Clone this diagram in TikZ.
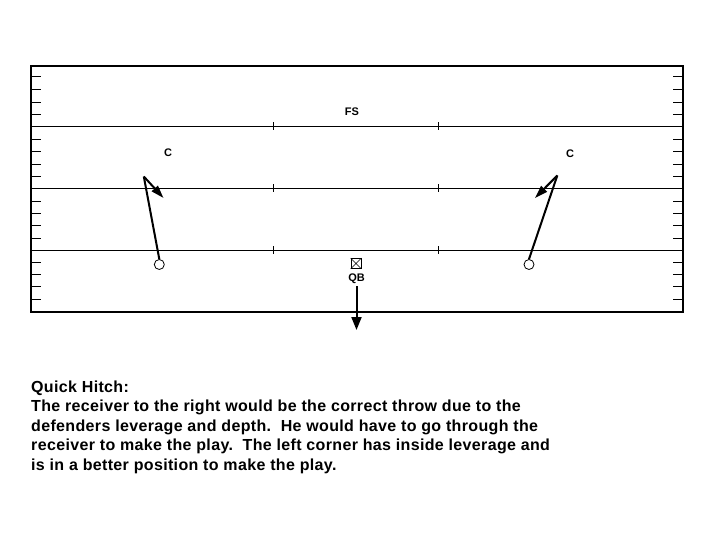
\documentclass[tikz,border=0pt]{standalone}
\usepackage{fontspec}
\setmainfont{Liberation Sans}
\newfontfamily\bodyfont[LetterSpace=2.2]{Liberation Sans}
\usetikzlibrary{arrows.meta}
\begin{document}
\begin{tikzpicture}[x=1pt,y=-1pt,
  yardline/.style={line width=0.9pt},
  border/.style={line width=1.8pt},
  tick/.style={line width=0.8pt},
  player/.style={circle,draw,line width=0.8pt,fill=white,minimum size=10pt,inner sep=0pt},
  route/.style={line width=2pt},
  rhead/.style={-{Triangle[length=13pt,width=8pt]}},
  lbl/.style={font=\fontsize{11}{11}\selectfont\bfseries,inner sep=0pt},
  body/.style={font=\bodyfont\fontsize{16}{19.5}\selectfont\bfseries,align=left,anchor=north west,inner sep=0pt}]
\useasboundingbox (0,0) rectangle (720,540);
\fill[white] (0,0) rectangle (720,540);
% yard lines
\foreach \y in {126.5,188.3,250} \draw[yardline] (31,\y) -- (683,\y);
% inner hash marks
\foreach \y in {126.5,188.3,250} \foreach \x in {273,438} \draw[tick] (\x,\y-4) -- (\x,\y+4);
% side ticks
\foreach \y in {76.7,89.7,102.3,114.3,139.3,151.5,164.3,176.7,201.7,213.3,225.7,238.3,262.3,274.3,286.7,299}{
  \draw[tick] (31,\y) -- (41,\y);
  \draw[tick] (673,\y) -- (683,\y);
}
\draw[border] (31,66) rectangle (683,311.7);
% labels
\node[lbl] (fs) at (352,112) {FS};
\node[lbl] (cl) at (168,152.5) {C};
\node[lbl] (cr) at (570,154) {C};
% players
\node[player] (wl) at (159.3,264.5) {};
\node[player] (wr) at (529,264.5) {};
\coordinate (tl) at (143.8,176.5);
\coordinate (hl) at (163.5,198);
\coordinate (tr) at (557.3,175.5);
\coordinate (hr) at (535,198);
\draw[route,line join=miter] (wl.north) -- (tl);
\draw[route,rhead] (tl) -- (hl);
\draw[route] (wr.north) -- (tr);
\draw[route,rhead] (tr) -- (hr);
% QB
\node[draw,line width=0.7pt,minimum size=10pt,inner sep=0pt] (qbbox) at (356,263.5) {};
\draw[line width=0.6pt] (qbbox.north west) -- (qbbox.south east) (qbbox.north east) -- (qbbox.south west);
\node[lbl] (qb) at (356.5,279) {QB};
\coordinate (qbend) at (356.5,330);
\draw[line width=2pt,-{Triangle[length=13pt,width=10pt]}] (qb.south) ++(0,2) -- (qbend);
% text
\node[body] (txt) at (31,380.5) {Quick Hitch:\\
The receiver to the right would be the correct throw due to the\\
defenders leverage and depth.\ \ He would have to go through the\\
receiver to make the play.\ \ The left corner has inside leverage and\\
is in a better position to make the play.};
\end{tikzpicture}
\end{document}
